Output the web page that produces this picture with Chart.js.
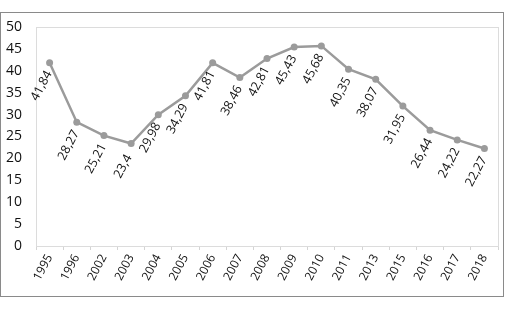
<!DOCTYPE html>
<html>
<head>
<meta charset="utf-8">
<script src="https://cdn.jsdelivr.net/npm/chart.js@4"></script>
<style>
  html, body { margin: 0; padding: 0; background: #fff; }
  #wrap { position: relative; width: 508px; height: 311px; }
  #frame { position: absolute; left: 0; top: 12px; width: 504px; height: 285px; border: 1.5px solid #8a8a8a; box-sizing: border-box; pointer-events: none; }
  canvas { position: absolute; left: 0; top: 0; }
</style>
</head>
<body>
<div id="wrap">
  <canvas id="chart" width="508" height="311"></canvas>
  <div id="frame"></div>
</div>
<script>
// ----------------- DATA -----------------
const years = ['1995', '1996', '2002', '2003', '2004', '2005', '2006', '2007', '2008',
               '2009', '2010', '2011', '2013', '2015', '2016', '2017', '2018'];
const values = [41.84, 28.27, 25.21, 23.4, 29.98, 34.29, 41.81, 38.46, 42.81,
                45.43, 45.68, 40.35, 38.07, 31.95, 26.44, 24.22, 22.27];
const yTicks = [0, 5, 10, 15, 20, 25, 30, 35, 40, 45, 50];

const FONT = '"Open Sans", sans-serif';
const LINE_GREY = '#9b9b9b';

// draw the light frame round the plot area
const plotFrame = {
  id: 'plotFrame',
  beforeDatasetsDraw(chart) {
    const { ctx, chartArea: a } = chart;
    ctx.save();
    ctx.strokeStyle = '#dcdcdc';
    ctx.lineWidth = 1;
    ctx.strokeRect(a.left + 0.5, a.top + 0.5, a.right - a.left, a.bottom - a.top);
    ctx.restore();
  }
};

// rotated value labels under every point, decimal comma
const valueLabels = {
  id: 'valueLabels',
  afterDatasetsDraw(chart) {
    const { ctx } = chart;
    const meta = chart.getDatasetMeta(0);
    ctx.save();
    ctx.fillStyle = '#111';
    ctx.font = '12.5px ' + FONT;
    ctx.textAlign = 'center';
    ctx.textBaseline = 'middle';
    meta.data.forEach((pt, i) => {
      const txt = String(values[i]).replace('.', ',');
      ctx.save();
      ctx.translate(pt.x - 8, pt.y + 23);
      ctx.rotate(-62 * Math.PI / 180);
      ctx.fillText(txt, 0, 0);
      ctx.restore();
    });
    ctx.restore();
  }
};

new Chart(document.getElementById('chart'), {
  type: 'line',
  data: {
    labels: years,
    datasets: [{
      data: values,
      borderColor: LINE_GREY,
      backgroundColor: LINE_GREY,
      borderWidth: 2.5,
      pointRadius: 3.5,
      pointBackgroundColor: LINE_GREY,
      pointBorderWidth: 0,
      tension: 0
    }]
  },
  options: {
    responsive: false,
    animation: false,
    layout: { padding: { left: 0, top: 27, right: 10, bottom: 26 } },
    plugins: {
      legend: { display: false },
      tooltip: { enabled: false }
    },
    scales: {
      x: {
        offset: true,
        grid: { display: true, drawOnChartArea: false, offset: true, tickLength: 4, color: '#d4d4d4' },
        border: { color: '#d4d4d4' },
        ticks: {
          color: '#111',
          font: { family: FONT, size: 12 },
          maxRotation: 62, minRotation: 62,
          autoSkip: false, padding: 2
        }
      },
      y: {
        min: 0, max: 50,
        afterBuildTicks: axis => { axis.ticks = yTicks.map(v => ({ value: v })); },
        grid: { display: false },
        border: { color: '#d4d4d4' },
        ticks: {
          color: '#111',
          font: { family: FONT, size: 14 },
          padding: 6
        }
      }
    }
  },
  plugins: [plotFrame, valueLabels]
});
</script>
</body>
</html>
